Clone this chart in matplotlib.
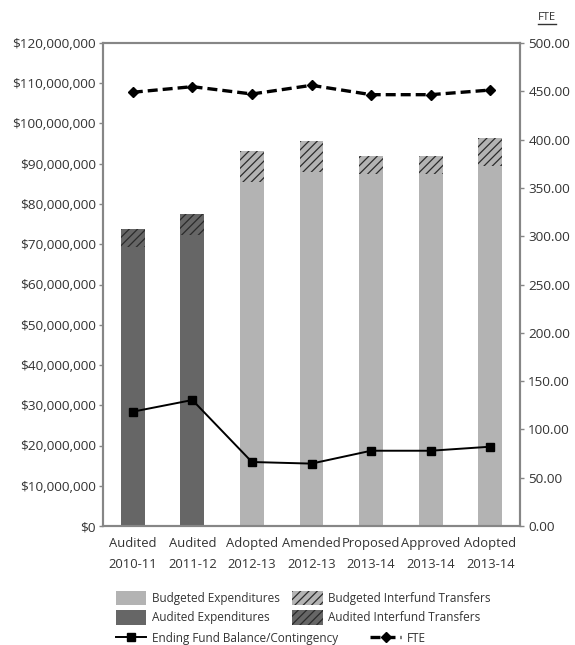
import matplotlib.pyplot as plt
import numpy as np
from matplotlib.lines import Line2D
from matplotlib.patches import Patch
from matplotlib.ticker import FuncFormatter

plt.rcParams['font.family'] = ['Open Sans', 'DejaVu Sans']
plt.rcParams['font.size'] = 9
plt.rcParams['hatch.color'] = '#2b2b2b'
plt.rcParams['hatch.linewidth'] = 0.9

txt = '#333333'
spine = '#868686'
dark = '#666666'
light = '#b3b3b3'

# budget years
labels = ['Audited\n2010-11', 'Audited\n2011-12', 'Adopted\n2012-13', 'Amended\n2012-13',
          'Proposed\n2013-14', 'Approved\n2013-14', 'Adopted\n2013-14']
audited = [True, True, False, False, False, False, False]

# dollars
expenditures = [69.3e6, 72.3e6, 85.5e6, 87.9e6, 87.4e6, 87.4e6, 89.4e6]
transfers = [4.4e6, 5.1e6, 7.7e6, 7.7e6, 4.6e6, 4.6e6, 7.0e6]
fund_balance = [28.4e6, 31.3e6, 15.9e6, 15.5e6, 18.7e6, 18.7e6, 19.7e6]

# staffing
fte = [449.0, 454.8, 447.2, 456.2, 446.5, 446.5, 451.3]

x = np.arange(len(labels))
base_colors = [dark if a else light for a in audited]
fte_dash = (0, (3, 1.5))

fig = plt.figure(figsize=(5.75, 6.45), dpi=100)
ax = fig.add_axes([103 / 575, 119 / 645, 417 / 575, 483 / 645])
ax2 = ax.twinx()

ax.bar(x, expenditures, width=0.4, color=base_colors, zorder=2)
ax.bar(x, transfers, width=0.4, bottom=expenditures, color=base_colors, hatch='////', zorder=2)
ax.plot(x, fund_balance, color='black', lw=1.4, marker='s', markersize=6, zorder=4)

ax2.plot(x, fte, color='black', lw=2.4, ls=fte_dash, marker='D', markersize=5.5, zorder=4)

ax.set_xlim(-0.5, len(labels) - 0.5)
ax.set_ylim(0, 120e6)
ax.set_yticks(np.arange(0, 120e6 + 1, 10e6))
ax.yaxis.set_major_formatter(FuncFormatter(lambda v, p: '${:,.0f}'.format(v)))
ax2.set_ylim(0, 500)
ax2.set_yticks(np.arange(0, 501, 50))
ax2.yaxis.set_major_formatter(FuncFormatter(lambda v, p: '{:.2f}'.format(v)))

ax.set_xticks(x)
ax.set_xticklabels(labels, linespacing=1.75)
ax.tick_params(axis='x', length=0, pad=8, colors=txt, labelsize=9.4)
ax.tick_params(axis='y', length=3, width=1, color=spine, labelcolor=txt, pad=2, labelsize=9.7)
ax2.tick_params(axis='y', length=3, width=1, color=spine, labelcolor=txt, pad=3, labelsize=9.7)

for a in (ax, ax2):
    for s in a.spines.values():
        s.set_color(spine)
        s.set_linewidth(1.5)

# underlined axis title on the right
fig.text(547 / 575, 1 - 17 / 645, 'FTE', ha='center', va='center', fontsize=8, color=txt)
fig.add_artist(Line2D([538 / 575, 556 / 575], [1 - 24 / 645, 1 - 24 / 645],
                      color=txt, lw=1, transform=fig.transFigure))

bar_handles = [
    Patch(facecolor=light, label='Budgeted Expenditures'),
    Patch(facecolor=dark, label='Audited Expenditures'),
    Patch(facecolor=light, hatch='////', label='Budgeted Interfund Transfers'),
    Patch(facecolor=dark, hatch='////', label='Audited Interfund Transfers'),
]
fig.legend(handles=bar_handles, ncol=2, loc='upper left',
           bbox_to_anchor=(105 / 575, 1 - 580 / 645), frameon=False,
           handlelength=2.6, handleheight=1.5, handletextpad=0.5,
           columnspacing=1.0, labelspacing=0.45, fontsize=8.5, labelcolor=txt)

line_handles = [
    Line2D([], [], color='black', lw=1.4, marker='s', markersize=6,
           label='Ending Fund Balance/Contingency'),
    Line2D([], [], color='black', lw=2.4, ls=fte_dash, marker='D', markersize=5.5,
           label='FTE'),
]
fig.legend(handles=line_handles, ncol=2, loc='upper left',
           bbox_to_anchor=(105 / 575, 1 - 621 / 645), frameon=False,
           handlelength=2.6, handletextpad=0.5, columnspacing=2.7,
           fontsize=8.5, labelcolor=txt)

fig.savefig('out.png', dpi=100, facecolor='white')
